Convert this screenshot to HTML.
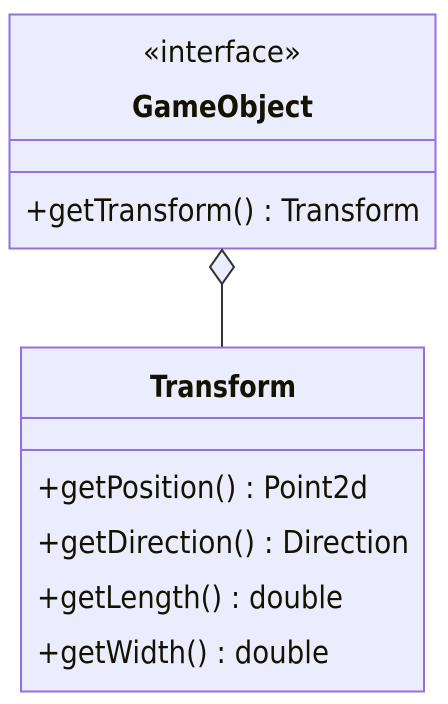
<!DOCTYPE html>
<html><head><style>html,body{margin:0;padding:0;background:#fff}svg{display:block}</style></head>
<body>
<svg width="448" height="704" viewBox="0 0 448 704" xmlns="http://www.w3.org/2000/svg" font-family="'DejaVu Sans','Liberation Sans',sans-serif" fill="#131300">
<rect x="9.5" y="14.5" width="426" height="234" fill="#ECECFF" stroke="#9370DB" stroke-width="2"/>
<line x1="9.5" y1="140" x2="435.5" y2="140" stroke="#9370DB" stroke-width="2"/>
<line x1="9.5" y1="172" x2="435.5" y2="172" stroke="#9370DB" stroke-width="2"/>
<text x="143" y="62" font-size="29" textLength="158" lengthAdjust="spacingAndGlyphs">«interface»</text>
<text x="132" y="117" font-size="30" font-weight="bold" textLength="181" lengthAdjust="spacingAndGlyphs">GameObject</text>
<text x="25" y="221" font-size="31" textLength="395" lengthAdjust="spacingAndGlyphs">+getTransform() : Transform</text>
<path d="M222 250 L234 267 L222 284 L210 267 Z" fill="#ECECFF" stroke="#333" stroke-width="2"/>
<line x1="222" y1="284" x2="222" y2="347" stroke="#333" stroke-width="2"/>
<rect x="21" y="347.5" width="403" height="344" fill="#ECECFF" stroke="#9370DB" stroke-width="2"/>
<line x1="21" y1="418" x2="424" y2="418" stroke="#9370DB" stroke-width="2"/>
<line x1="21" y1="450" x2="424" y2="450" stroke="#9370DB" stroke-width="2"/>
<text x="150" y="397" font-size="30" font-weight="bold" textLength="146" lengthAdjust="spacingAndGlyphs">Transform</text>
<text x="37" y="498" font-size="31" textLength="331" lengthAdjust="spacingAndGlyphs">+getPosition() : Point2d</text>
<text x="37" y="553" font-size="31" textLength="372" lengthAdjust="spacingAndGlyphs">+getDirection() : Direction</text>
<text x="37" y="608" font-size="31" textLength="306" lengthAdjust="spacingAndGlyphs">+getLength() : double</text>
<text x="37" y="663" font-size="31" textLength="292" lengthAdjust="spacingAndGlyphs">+getWidth() : double</text>
</svg>
</body></html>
